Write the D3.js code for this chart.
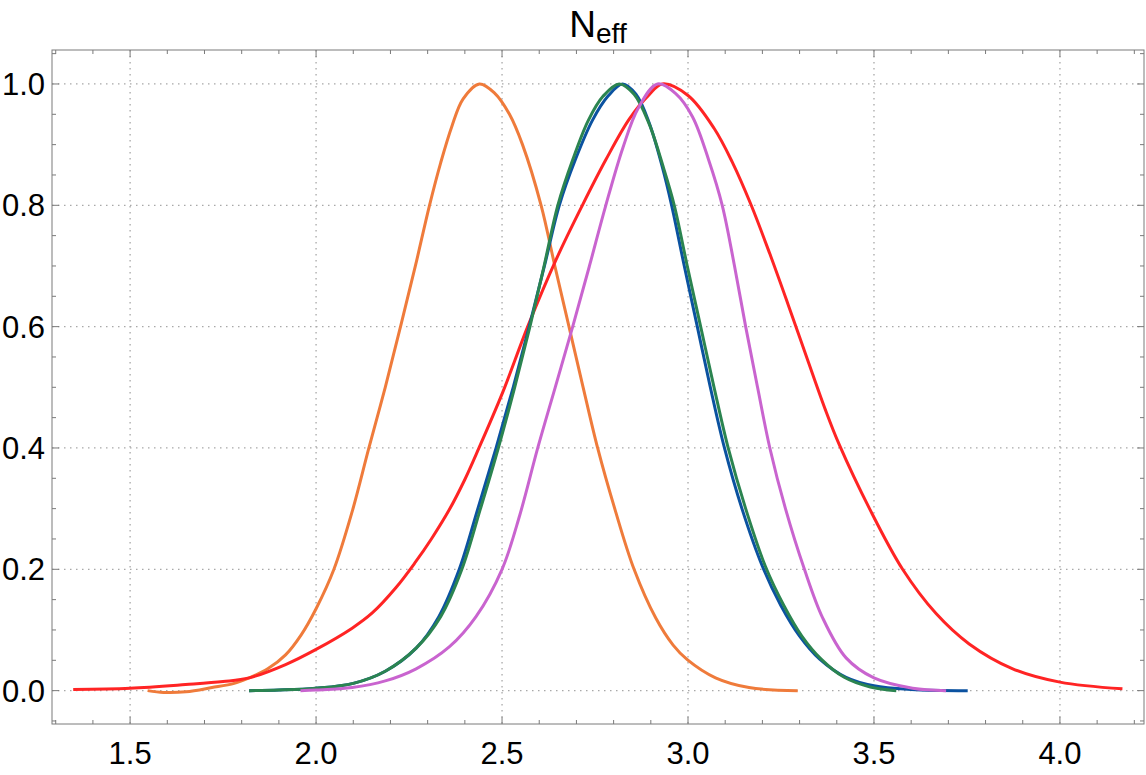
<!DOCTYPE html>
<html>
<head>
<meta charset="utf-8">
<script src="https://cdn.jsdelivr.net/npm/d3@7"></script>
<style>
  body { margin: 0; background: #fff; }
  svg text { font-family: "Liberation Sans", Arial, Helvetica, sans-serif; fill: #000; }
</style>
</head>
<body>
<div id="chart"></div>
<script>
// Curve samples [N_eff, normalised posterior]
const orange = [[1.547,0],[1.59,-0.003],[1.65,-0.002],[1.72,0.005],[1.78,0.012],[1.82,0.021],[1.87,0.036],
  [1.918,0.059],[1.96,0.092],[2.0,0.135],[2.048,0.2],[2.097,0.295],[2.142,0.4],[2.186,0.5],[2.227,0.6],
  [2.267,0.7],[2.305,0.8],[2.335,0.87],[2.365,0.93],[2.395,0.975],[2.439,1.0],[2.48,0.985],[2.52,0.95],
  [2.555,0.9],[2.605,0.8],[2.642,0.7],[2.68,0.6],[2.718,0.5],[2.757,0.4],[2.803,0.3],[2.855,0.2],
  [2.913,0.12],[2.96,0.075],[2.998,0.051],[3.074,0.021],[3.164,0.005],[3.295,0]];

const red = [[1.347,0.002],[1.5,0.004],[1.649,0.01],[1.75,0.015],[1.82,0.021],[1.918,0.043],[2.0,0.068],
  [2.097,0.103],[2.151,0.128],[2.215,0.17],[2.265,0.21],[2.31,0.25],[2.358,0.298],[2.4,0.348],[2.438,0.4],
  [2.502,0.492],[2.569,0.6],[2.645,0.71],[2.716,0.8],[2.779,0.875],[2.842,0.942],[2.895,0.982],[2.931,1.0],
  [3.0,0.981],[3.07,0.927],[3.12,0.87],[3.17,0.8],[3.22,0.72],[3.27,0.635],[3.32,0.548],[3.37,0.462],
  [3.407,0.405],[3.488,0.3],[3.577,0.2],[3.667,0.127],[3.756,0.077],[3.873,0.036],[4.0,0.014],[4.168,0.003]];

const blue = [[1.82,0],[1.9,0.001],[2.0,0.004],[2.1,0.012],[2.186,0.032],[2.269,0.07],[2.33,0.122],
  [2.385,0.2],[2.435,0.3],[2.484,0.4],[2.53,0.5],[2.573,0.6],[2.614,0.7],[2.654,0.8],[2.697,0.875],
  [2.743,0.94],[2.785,0.98],[2.824,1.0],[2.86,0.983],[2.895,0.937],[2.931,0.863],[2.956,0.8],[2.99,0.7],
  [3.025,0.6],[3.06,0.5],[3.098,0.4],[3.145,0.3],[3.2,0.205],[3.25,0.14],[3.3,0.09],[3.354,0.052],
  [3.425,0.022],[3.5,0.008],[3.6,0.002],[3.752,0]];

const green = [[1.82,0],[1.9,0.001],[2.0,0.004],[2.1,0.012],[2.186,0.032],[2.269,0.07],[2.335,0.122],
  [2.392,0.2],[2.442,0.3],[2.49,0.4],[2.534,0.5],[2.575,0.6],[2.613,0.7],[2.65,0.8],[2.69,0.875],
  [2.732,0.94],[2.772,0.98],[2.815,1.0],[2.855,0.983],[2.895,0.935],[2.935,0.86],[2.963,0.8],[2.998,0.7],
  [3.034,0.6],[3.07,0.5],[3.108,0.4],[3.155,0.3],[3.208,0.205],[3.258,0.14],[3.306,0.09],[3.358,0.052],
  [3.42,0.022],[3.49,0.006],[3.56,0]];

const purple = [[1.958,0],[2.0,0.001],[2.097,0.005],[2.186,0.016],[2.269,0.036],[2.358,0.072],[2.43,0.122],
  [2.5,0.2],[2.548,0.29],[2.596,0.4],[2.643,0.5],[2.69,0.6],[2.735,0.7],[2.779,0.8],[2.825,0.895],
  [2.866,0.96],[2.918,1.0],[2.967,0.984],[3.012,0.946],[3.056,0.874],[3.092,0.8],[3.125,0.7],[3.155,0.6],
  [3.187,0.5],[3.22,0.4],[3.262,0.3],[3.313,0.2],[3.362,0.12],[3.425,0.054],[3.5,0.021],[3.604,0.004],
  [3.694,0]];

const xTicks = [1.5, 2.0, 2.5, 3.0, 3.5, 4.0];
const yTicks = [0, 0.2, 0.4, 0.6, 0.8, 1.0];

// drawing order matters: later series sit on top
const series = [
  {data: orange, color: "#ef7b3b"},
  {data: red, color: "#ff2424"},
  {data: blue, color: "#0b52a0"},
  {data: green, color: "#2b8450"},
  {data: purple, color: "#c964cf"}
];

const width = 1146;
const height = 775;
const marginLeft = 52;
const marginRight = 2;
const marginTop = 50;
const marginBottom = 51;

const x = d3.scaleLinear().domain([1.29, 4.226]).range([marginLeft, width - marginRight]);
const y = d3.scaleLinear().domain([-0.055, 1.056]).range([height - marginBottom, marginTop]);

const svg = d3.select("#chart").append("svg")
    .attr("width", width)
    .attr("height", height)
    .attr("viewBox", [0, 0, width, height]);

// dotted grid
svg.append("g")
  .selectAll("line")
  .data(xTicks)
  .join("line")
    .attr("x1", d => x(d)).attr("x2", d => x(d))
    .attr("y1", y.range()[1]).attr("y2", y.range()[0])
    .attr("stroke", "#a8a8a8").attr("stroke-width", 1.3).attr("stroke-dasharray", "1.5,4.5");

svg.append("g")
  .selectAll("line")
  .data(yTicks)
  .join("line")
    .attr("x1", x.range()[0]).attr("x2", x.range()[1])
    .attr("y1", d => y(d)).attr("y2", d => y(d))
    .attr("stroke", "#a8a8a8").attr("stroke-width", 1.3).attr("stroke-dasharray", "1.5,4.5");

// frame ticks (inward), minor + major
const xMinor = d3.range(13, 43).map(d => d / 10);
const yMinor = d3.range(-1, 22).map(d => d / 20);
const isMajorX = d => Math.abs(d * 2 - Math.round(d * 2)) < 1e-6;
const isMajorY = d => Math.abs(d * 5 - Math.round(d * 5)) < 1e-6;
const ticks = svg.append("g").attr("stroke", "#7a7a7a").attr("stroke-width", 1);

[y.range()[0], y.range()[1]].forEach((py, i) => {
  const dir = i === 0 ? -1 : 1;
  ticks.append("g").selectAll("line")
    .data(xMinor)
    .join("line")
      .attr("x1", d => x(d)).attr("x2", d => x(d))
      .attr("y1", py).attr("y2", d => py + dir * (isMajorX(d) ? 7 : 4));
});

[x.range()[0], x.range()[1]].forEach((px, i) => {
  const dir = i === 0 ? 1 : -1;
  ticks.append("g").selectAll("line")
    .data(yMinor)
    .join("line")
      .attr("y1", d => y(d)).attr("y2", d => y(d))
      .attr("x1", px).attr("x2", d => px + dir * (isMajorY(d) ? 7 : 4));
});

// frame
svg.append("rect")
    .attr("x", x.range()[0]).attr("y", y.range()[1])
    .attr("width", x.range()[1] - x.range()[0])
    .attr("height", y.range()[0] - y.range()[1])
    .attr("fill", "none").attr("stroke", "#7a7a7a").attr("stroke-width", 1);

// tick labels
svg.append("g")
  .selectAll("text")
  .data(xTicks)
  .join("text")
    .attr("x", d => x(d))
    .attr("y", 764)
    .attr("text-anchor", "middle")
    .attr("font-size", 31)
    .text(d3.format(".1f"));

svg.append("g")
  .selectAll("text")
  .data(yTicks)
  .join("text")
    .attr("x", 45)
    .attr("y", d => y(d))
    .attr("dy", "0.36em")
    .attr("text-anchor", "end")
    .attr("font-size", 31)
    .text(d3.format(".1f"));

// curves
const line = d3.line()
    .x(d => x(d[0]))
    .y(d => y(d[1]))
    .curve(d3.curveCatmullRom.alpha(0.5));

svg.append("g")
  .selectAll("path")
  .data(series)
  .join("path")
    .attr("fill", "none")
    .attr("stroke", d => d.color)
    .attr("stroke-width", 3)
    .attr("stroke-linejoin", "round")
    .attr("d", d => line(d.data));

// title N_eff
const title = svg.append("text")
    .attr("x", (x.range()[0] + x.range()[1]) / 2)
    .attr("y", 37)
    .attr("text-anchor", "middle")
    .attr("font-size", 37);
title.append("tspan").text("N");
title.append("tspan").attr("font-size", 28).attr("dy", 6).text("eff");
</script>
</body>
</html>
